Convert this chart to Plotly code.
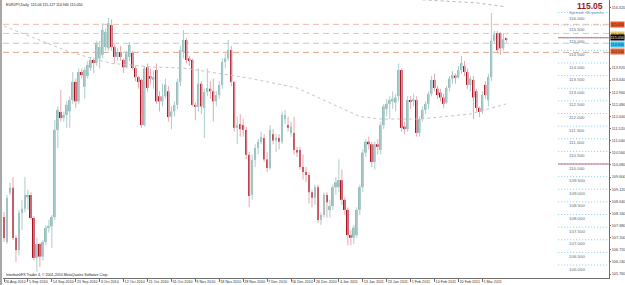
import plotly.graph_objects as go

TITLE = "EURJPY,Daily  115.06 115.127 114.946 115.050"
COPYRIGHT = "InterbankFX Trader 4, \u00a9 2001-2010 MetaQuotes Software Corp."
BIG_PRICE = "115.05"
SPREAD = "Spread: 30 points"

date_labels = ["26 Aug 2010", "5 Sep 2010", "14 Sep 2010", "23 Sep 2010", "3 Oct 2010",
               "12 Oct 2010", "21 Oct 2010", "31 Oct 2010", "9 Nov 2010", "18 Nov 2010",
               "28 Nov 2010", "7 Dec 2010", "16 Dec 2010", "26 Dec 2010", "4 Jan 2011",
               "13 Jan 2011", "23 Jan 2011", "1 Feb 2011", "10 Feb 2011", "20 Feb 2011",
               "1 Mar 2011"]
date_label_bars = [0, 8, 16, 24, 32, 40, 48, 56, 64, 72, 80, 88, 96, 104, 112, 120, 128,
                   136, 144, 152, 160]

open_ = [108.02, 107.03, 108.98, 109.18, 107.19, 106.71, 108.18, 108.35, 108.80, 108.89,
         107.98, 106.40, 106.95, 106.45, 107.03, 107.59, 107.65, 108.02, 111.47, 112.18,
         111.94, 112.06, 112.20, 112.65, 113.37, 112.60, 113.76, 113.18, 113.60, 113.93,
         114.24, 114.12, 114.30, 114.44, 114.75, 114.70, 115.62, 114.75, 114.36, 114.55,
         114.24, 113.95, 114.36, 114.52, 113.92, 113.56, 113.45, 111.66, 113.95, 113.60,
         113.45, 113.84, 112.80, 112.60, 112.80, 113.00, 112.00, 112.20, 112.46, 113.37,
         114.55, 115.03, 114.30, 114.24, 112.46, 112.38, 113.30, 112.34, 112.97, 113.10,
         113.00, 112.60, 112.85, 113.25, 114.16, 114.30, 114.63, 113.37, 111.55, 111.70,
         111.66, 111.47, 110.48, 108.90, 110.28, 110.75, 110.99, 111.15, 110.30, 109.96,
         111.30, 111.05, 111.15, 111.00, 111.90, 111.66, 111.35, 111.35, 110.67, 110.67,
         110.00, 109.80, 109.68, 109.00, 108.78, 109.20, 107.90, 108.10, 108.89, 108.30,
         108.45, 109.20, 109.20, 109.48, 108.70, 108.30, 107.30, 107.20, 107.30, 108.30,
         109.20, 110.57, 111.00, 110.90, 110.20, 110.90, 110.67, 111.66, 112.30, 112.50,
         112.60, 112.55, 112.80, 113.84, 111.60, 111.50, 112.65, 112.60, 112.65, 111.35,
         111.90, 112.26, 112.50, 112.90, 113.45, 113.10, 112.95, 112.75, 112.55, 113.13,
         113.50, 113.62, 113.55, 113.84, 114.00, 113.76, 113.25, 113.45, 113.00, 112.34,
         112.20, 113.25, 112.65, 113.56, 115.00, 115.30, 115.30, 114.70, 115.06]
high = [108.22, 108.89, 109.37, 109.60, 107.30, 108.30, 108.70, 109.60, 109.10, 109.00,
        108.05, 107.20, 107.00, 107.10, 107.70, 107.90, 108.10, 111.86, 112.40, 113.05,
        112.20, 112.60, 112.80, 113.76, 113.50, 113.90, 113.90, 113.95, 114.20, 114.35,
        114.30, 115.00, 115.00, 115.70, 115.50, 115.90, 115.85, 114.85, 114.70, 114.80,
        114.30, 114.60, 114.95, 114.60, 114.00, 113.60, 113.50, 114.00, 114.10, 113.90,
        113.80, 114.10, 113.00, 113.30, 113.50, 113.20, 112.40, 112.60, 113.50, 114.80,
        115.43, 115.10, 114.40, 114.30, 112.55, 113.90, 113.40, 113.10, 113.90, 113.40,
        113.50, 113.00, 113.40, 114.30, 114.50, 115.03, 114.80, 113.40, 112.00, 112.10,
        111.90, 111.60, 110.60, 110.50, 110.90, 111.10, 111.40, 111.30, 110.60, 111.66,
        111.50, 111.30, 111.30, 112.20, 112.26, 112.00, 111.80, 111.98, 110.80, 110.80,
        110.50, 110.00, 109.80, 109.10, 109.30, 109.30, 108.20, 109.00, 109.00, 108.70,
        109.30, 109.60, 110.30, 109.90, 108.80, 108.40, 107.50, 107.70, 108.40, 109.30,
        110.70, 111.10, 111.20, 111.00, 111.00, 111.10, 111.80, 112.50, 112.70, 112.80,
        113.00, 112.90, 114.10, 113.90, 111.80, 112.80, 112.80, 112.90, 112.80, 112.00,
        112.40, 112.60, 113.00, 113.60, 113.70, 113.20, 113.10, 112.90, 113.20, 113.60,
        113.80, 113.70, 114.00, 114.40, 114.20, 113.90, 113.60, 113.60, 113.10, 112.40,
        113.00, 113.40, 113.70, 116.10, 115.40, 115.40, 115.35, 115.30, 115.127]
low = [107.03, 106.95, 108.90, 107.10, 106.24, 106.50, 107.50, 108.20, 108.30, 107.90,
       106.30, 105.84, 106.04, 106.30, 106.90, 107.40, 106.80, 107.90, 110.75, 111.80,
       111.80, 111.55, 111.55, 112.50, 112.34, 112.50, 113.50, 112.70, 113.50, 113.80,
       113.72, 114.00, 113.90, 114.30, 114.60, 114.60, 114.60, 114.10, 114.20, 114.20,
       113.72, 113.90, 114.20, 113.85, 113.40, 113.10, 111.55, 111.60, 113.00, 113.30,
       113.10, 112.50, 112.20, 112.40, 112.70, 111.80, 111.50, 112.00, 112.30, 113.20,
       114.30, 114.10, 114.00, 112.40, 111.85, 112.20, 112.10, 111.15, 112.80, 112.70,
       111.80, 112.40, 112.70, 113.10, 113.90, 114.20, 113.20, 111.40, 110.90, 111.20,
       111.20, 110.30, 108.41, 108.70, 110.00, 110.50, 110.90, 110.20, 109.80, 109.90,
       110.90, 110.60, 110.70, 110.90, 111.70, 111.40, 111.20, 110.50, 110.40, 109.90,
       109.50, 109.40, 108.55, 108.40, 108.50, 107.80, 107.70, 108.00, 108.00, 108.00,
       108.30, 108.90, 109.00, 108.50, 108.10, 106.90, 106.90, 106.95, 107.20, 108.10,
       109.00, 110.40, 110.70, 110.00, 109.90, 110.50, 110.50, 111.50, 112.00, 111.90,
       112.30, 112.20, 112.60, 111.40, 111.30, 111.40, 112.30, 112.40, 111.20, 111.20,
       111.80, 112.10, 112.30, 112.80, 113.00, 112.70, 112.60, 112.35, 112.50, 113.00,
       113.30, 113.30, 113.50, 113.70, 113.60, 113.10, 113.00, 111.90, 112.20, 111.98,
       112.10, 112.70, 112.40, 113.40, 114.90, 114.50, 114.44, 114.60, 114.946]
close = [107.19, 108.77, 109.18, 107.19, 106.71, 108.18, 108.35, 108.89, 108.90, 107.98,
         106.40, 106.95, 106.45, 107.03, 107.59, 107.65, 108.02, 111.47, 112.26, 111.94,
         112.06, 112.46, 112.65, 113.37, 112.60, 113.76, 113.64, 113.84, 114.04, 114.24,
         114.12, 114.91, 114.75, 115.43, 115.35, 115.70, 114.75, 114.36, 114.55, 114.36,
         113.95, 114.50, 114.83, 113.92, 113.56, 113.37, 111.66, 113.90, 113.13, 113.50,
         113.56, 112.60, 112.60, 112.80, 113.25, 111.98, 112.20, 112.46, 113.37, 114.63,
         115.03, 114.24, 114.20, 112.46, 112.38, 113.30, 112.40, 112.97, 113.13, 113.00,
         112.60, 112.85, 113.25, 114.16, 114.30, 114.63, 113.37, 111.55, 111.66, 111.50,
         111.47, 110.48, 108.85, 110.28, 110.75, 110.99, 111.19, 110.30, 109.96, 111.47,
         111.05, 111.15, 111.00, 112.06, 112.06, 111.55, 111.60, 110.67, 110.57, 110.00,
         109.80, 109.68, 109.00, 108.78, 109.20, 107.90, 108.10, 108.90, 108.60, 108.45,
         109.20, 109.40, 109.48, 108.70, 108.30, 107.30, 107.20, 107.60, 108.30, 109.20,
         110.57, 111.00, 110.90, 110.20, 110.90, 110.80, 111.66, 112.40, 112.50, 112.65,
         112.70, 112.75, 113.84, 111.55, 111.50, 112.65, 112.60, 112.68, 111.35, 111.90,
         112.26, 112.50, 112.90, 113.45, 113.13, 112.85, 112.75, 112.50, 113.13, 113.50,
         113.64, 113.53, 113.84, 114.12, 113.76, 113.25, 113.50, 112.75, 112.34, 112.18,
         112.85, 112.85, 113.56, 115.00, 115.25, 114.63, 114.70, 115.06, 115.05]

ma_fast_bars = [0, 10, 22, 36, 50, 60, 82, 98, 109, 119, 126, 139, 156, 168]
ma_fast_vals = [115.58, 115.10, 114.55, 114.10, 113.96, 113.92, 113.52, 113.13, 112.53,
                112.00, 111.90, 111.90, 112.10, 112.50]
ma_slow_bars = [140, 150, 158, 168]
ma_slow_vals = [116.62, 116.56, 116.50, 116.34]

dashed_levels = [115.65, 115.29, 114.90, 114.54]
dashed_colors = ["#f1b8a6", "#e2cf94", "#a7d3e2", "#dda78f"]

round_levels = [116.0, 115.5, 115.0, 114.5, 114.0, 113.5, 113.0, 112.5, 112.0, 111.5, 111.0,
                110.5, 110.0, 109.5, 109.0, 108.5, 108.0, 107.5, 107.0, 106.5, 106.0]
round_major = [115.0, 110.0]

axis_ticks = [116.32, 113.92, 113.44, 112.96, 112.48, 112.00, 111.52, 111.04, 110.56, 110.08,
              109.60, 109.12, 108.64, 108.16, 107.68, 107.20, 106.72, 106.24, 105.76]

tag_prices = [115.65, 115.29, 115.05, 114.90, 114.54]
tag_colors = ["#e4572a", "#ecc86a", "#000000", "#3fc4ef", "#e8632f"]
tag_text_colors = ["#5a1a08", "#5a4a10", "#ffffff", "#0a3850", "#5a1a08"]
tag_shift = [0, -1, 2, -1, 1]

# ---------- geometry ----------
W, H = 625, 285
ML, MR, MT, MB = 3, 14, 0, 7
PW, PH = W - ML - MR, H - MT - MB
Y_TOP, PX_PER_UNIT = 116.614, 25.25
Y_BOT = Y_TOP - PH / PX_PER_UNIT
BAR_PX, BAR0_PX = 3.0, 4.0
X_LEFT = (ML - BAR0_PX) / BAR_PX
X_RIGHT = (ML + PW - BAR0_PX) / BAR_PX


def px_x(px):
    return (px - ML) / PW


def px_y(py):
    return 1 - (py - MT) / PH


bars = list(range(len(open_)))
UP_BODY, UP_WICK = "#97bdbb", "#a9cdcb"
DN_BODY, DN_WICK = "#ac1424", "#e8a6ae"

fig = go.Figure()

# moving averages (dotted)
fig.add_trace(go.Scatter(x=ma_fast_bars, y=ma_fast_vals, mode="lines",
                         line=dict(color="#c4c4c4", width=1, dash="dot"), hoverinfo="skip"))
fig.add_trace(go.Scatter(x=ma_slow_bars, y=ma_slow_vals, mode="lines",
                         line=dict(color="#b8b8b8", width=1, dash="dot"), hoverinfo="skip"))

# wicks
fig.add_trace(go.Ohlc(x=bars, open=open_, high=high, low=low, close=close, tickwidth=0,
                      increasing=dict(line=dict(color=UP_WICK, width=1)),
                      decreasing=dict(line=dict(color=DN_WICK, width=1)),
                      hoverinfo="skip"))

# bodies
up = [i for i in bars if close[i] >= open_[i]]
dn = [i for i in bars if close[i] < open_[i]]
for idx, col in ((up, UP_BODY), (dn, DN_BODY)):
    fig.add_trace(go.Bar(x=idx,
                         y=[max(abs(close[i] - open_[i]), 0.03) for i in idx],
                         base=[min(close[i], open_[i]) for i in idx],
                         width=0.62, marker=dict(color=col, line=dict(width=0)),
                         hoverinfo="skip"))

shapes = []
# left window border
shapes.append(dict(type="rect", xref="paper", yref="paper", x0=px_x(0), x1=px_x(2),
                   y0=px_y(H), y1=px_y(0), fillcolor="#a8a8a8", line=dict(width=0),
                   layer="above"))
# dashed horizontal levels
for lv, c in zip(dashed_levels, dashed_colors):
    shapes.append(dict(type="line", xref="paper", yref="y", x0=0, x1=1, y0=lv, y1=lv,
                       line=dict(color=c, width=1, dash="6px,4px"), layer="below"))
# round-number markers
annotations = []
for lv in round_levels:
    shapes.append(dict(type="line", xref="paper", yref="y", ysizemode="pixel", yanchor=lv,
                       y0=3, y1=3, x0=px_x(560), x1=1,
                       line=dict(color="#86cbe2", width=1, dash="1px,2px")))
    annotations.append(dict(xref="paper", yref="y", x=px_x(589), y=lv,
                            yshift=(-2.5 if lv == 116.0 else -1),
                            xanchor="right", yanchor="middle", showarrow=False,
                            text=f"{lv:.3f}", font=dict(size=4.4, color="#6a6a6a",
                                                        family="Liberation Sans")))
for lv in round_major:
    shapes.append(dict(type="line", xref="paper", yref="y", ysizemode="pixel", yanchor=lv,
                       y0=3, y1=3, x0=px_x(560), x1=1,
                       line=dict(color="#c06a78", width=1)))

# right axis price tags
for p, c, tc, s in zip(tag_prices, tag_colors, tag_text_colors, tag_shift):
    annotations.append(dict(xref="paper", yref="y", x=1, xshift=0.5, y=p, yshift=s,
                            xanchor="left", yanchor="middle", showarrow=False,
                            text=f"{p:.3f}", bgcolor=c, width=13, height=5, borderpad=0,
                            font=dict(size=3.8, color=tc, family="Liberation Sans")))

annotations += [
    dict(xref="paper", yref="paper", x=0, xshift=1, y=px_y(1.5), xanchor="left",
         yanchor="top", showarrow=False, text=TITLE,
         font=dict(size=3.6, color="#202020", family="Liberation Sans")),
    dict(xref="paper", yref="paper", x=0, xshift=1, y=px_y(274.5), xanchor="left",
         yanchor="middle", showarrow=False, text=COPYRIGHT,
         font=dict(size=3.6, color="#202020", family="Liberation Sans")),
    dict(xref="paper", yref="paper", x=px_x(607), y=px_y(6.5), xanchor="right",
         yanchor="middle", showarrow=False, text=f"<b>{BIG_PRICE}</b>",
         font=dict(size=8.5, color="#a01416", family="Liberation Sans")),
    dict(xref="paper", yref="paper", x=px_x(608), y=px_y(12.3), xanchor="right",
         yanchor="middle", showarrow=False, text=SPREAD,
         font=dict(size=4.4, color="#6f90b8", family="Liberation Sans")),
]

fig.update_layout(
    width=W, height=H, margin=dict(l=ML, r=MR, t=MT, b=MB),
    paper_bgcolor="white", plot_bgcolor="white", showlegend=False,
    barmode="overlay", shapes=shapes, annotations=annotations,
    font=dict(family="Liberation Sans"),
    xaxis=dict(range=[X_LEFT, X_RIGHT], showgrid=False, zeroline=False,
               showline=True, linecolor="#707070", linewidth=1,
               tickmode="array", tickvals=date_label_bars, ticktext=date_labels,
               ticks="outside", ticklen=3, tickcolor="#707070", tickwidth=1,
               ticklabelposition="outside right", tickangle=0,
               tickfont=dict(size=3.7, color="#303030", family="Liberation Sans"),
               rangeslider=dict(visible=False), fixedrange=True),
    yaxis=dict(range=[Y_BOT, Y_TOP], side="right", showgrid=False, zeroline=False,
               showline=True, linecolor="#707070", linewidth=1,
               tickmode="array", tickvals=axis_ticks,
               ticktext=[f"{v:.3f}" for v in axis_ticks],
               ticks="outside", ticklen=1, tickcolor="#707070",
               tickfont=dict(size=3.8, color="#404040", family="Liberation Sans"),
               fixedrange=True),
)

fig.write_html("out.html")
